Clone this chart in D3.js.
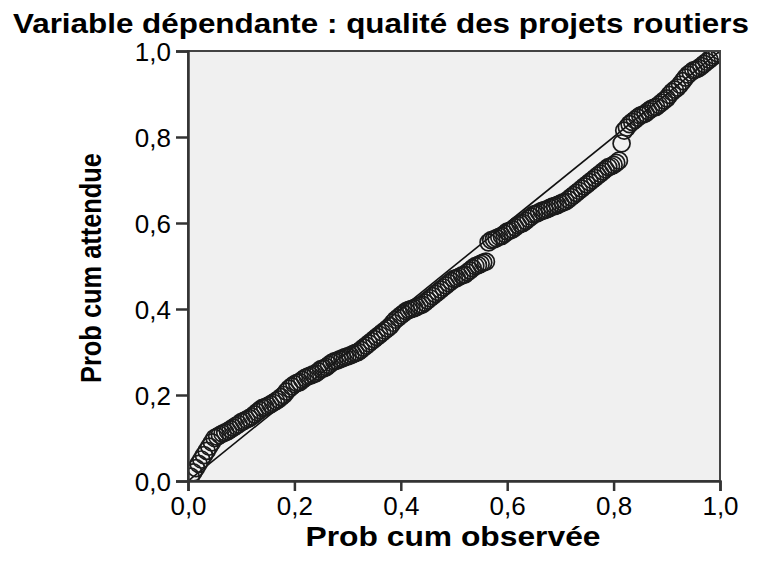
<!DOCTYPE html>
<html>
<head>
<meta charset="utf-8">
<script src="https://cdn.jsdelivr.net/npm/d3@7"></script>
<style>
  html, body { margin: 0; padding: 0; background: #ffffff; }
  svg { display: block; font-family: "Liberation Sans", Arial, sans-serif; }
</style>
</head>
<body>
<svg id="chart" width="760" height="572"></svg>
<script>
// ---- data ----
const titleText = "Variable dépendante : qualité des projets routiers";
const xLabel = "Prob cum observée";
const yLabel = "Prob cum attendue";
const tickValues = [0, 0.2, 0.4, 0.6, 0.8, 1.0];
const tickLabels = ["0,0", "0,2", "0,4", "0,6", "0,8", "1,0"];

const observed = [
  0.005,0.01,0.015,0.02,0.025,0.03,0.035,0.04,0.045,0.05,
  0.055,0.06,0.065,0.07,0.075,0.08,0.085,0.09,0.095,0.10,
  0.105,0.11,0.115,0.12,0.125,0.13,0.135,0.14,0.145,0.15,
  0.155,0.16,0.165,0.17,0.175,0.18,0.185,0.19,0.195,0.20,
  0.205,0.21,0.215,0.22,0.225,0.23,0.235,0.24,0.245,0.25,
  0.255,0.26,0.265,0.27,0.275,0.28,0.285,0.29,0.295,0.30,
  0.305,0.31,0.315,0.32,0.325,0.33,0.335,0.34,0.345,0.35,
  0.355,0.36,0.365,0.37,0.375,0.38,0.385,0.39,0.395,0.40,
  0.405,0.41,0.415,0.42,0.425,0.43,0.435,0.44,0.445,0.45,
  0.455,0.46,0.465,0.47,0.475,0.48,0.485,0.49,0.495,0.50,
  0.505,0.51,0.515,0.52,0.525,0.53,0.535,0.54,0.545,0.55,
  0.555,0.56,0.565,0.57,0.575,0.58,0.585,0.59,0.595,0.60,
  0.605,0.61,0.615,0.62,0.625,0.63,0.635,0.64,0.645,0.65,
  0.655,0.66,0.665,0.67,0.675,0.68,0.685,0.69,0.695,0.70,
  0.705,0.71,0.715,0.72,0.725,0.73,0.735,0.74,0.745,0.75,
  0.755,0.76,0.765,0.77,0.775,0.78,0.785,0.79,0.795,0.80,
  0.805,0.81,0.815,0.82,0.825,0.83,0.835,0.84,0.845,0.85,
  0.855,0.86,0.865,0.87,0.875,0.88,0.885,0.89,0.895,0.90,
  0.905,0.91,0.915,0.92,0.925,0.93,0.935,0.94,0.945,0.95,
  0.955,0.96,0.965,0.97,0.975,0.98,0.985,0.99,0.995,1.0
];
const expected = [
  0.01,0.02,0.03,0.04,0.05,0.06,0.07,0.08,0.09,0.10,
  0.103,0.107,0.11,0.113,0.116,0.12,0.124,0.128,0.132,0.137,
  0.14,0.143,0.146,0.15,0.155,0.16,0.165,0.17,0.172,0.175,
  0.178,0.182,0.186,0.19,0.195,0.20,0.208,0.215,0.22,0.225,
  0.228,0.23,0.235,0.24,0.243,0.245,0.248,0.25,0.255,0.26,
  0.262,0.265,0.27,0.275,0.278,0.28,0.283,0.285,0.288,0.29,
  0.292,0.295,0.298,0.30,0.305,0.31,0.315,0.32,0.325,0.33,
  0.335,0.34,0.345,0.35,0.355,0.36,0.368,0.375,0.38,0.385,
  0.39,0.395,0.398,0.40,0.402,0.405,0.408,0.41,0.415,0.42,
  0.425,0.43,0.435,0.44,0.445,0.45,0.455,0.46,0.465,0.47,
  0.472,0.475,0.478,0.48,0.485,0.49,0.495,0.50,0.502,0.505,
  0.508,0.51,0.555,0.56,0.562,0.565,0.568,0.57,0.575,0.58,
  0.582,0.585,0.59,0.595,0.598,0.60,0.605,0.61,0.615,0.62,
  0.622,0.625,0.628,0.63,0.632,0.635,0.638,0.64,0.642,0.645,
  0.648,0.65,0.655,0.66,0.665,0.67,0.675,0.68,0.685,0.69,
  0.695,0.70,0.705,0.71,0.715,0.72,0.725,0.73,0.732,0.735,
  0.74,0.745,0.785,0.815,0.822,0.83,0.835,0.84,0.845,0.85,
  0.852,0.855,0.86,0.865,0.868,0.87,0.875,0.88,0.885,0.89,
  0.898,0.905,0.91,0.915,0.922,0.93,0.938,0.945,0.95,0.955,
  0.957,0.96,0.965,0.97,0.975,0.98,0.985,0.99,0.995,1.0
];

// ---- layout ----
const svg = d3.select("#chart");
const plot = { left: 188, right: 720, top: 51, bottom: 481 };

const x = d3.scaleLinear().domain([0, 1]).range([plot.left, plot.right]);
const y = d3.scaleLinear().domain([0, 1]).range([plot.bottom, plot.top]);

// background
svg.append("rect")
  .attr("x", plot.left).attr("y", plot.top)
  .attr("width", plot.right - plot.left).attr("height", plot.bottom - plot.top)
  .attr("fill", "#f0f0f0");

svg.append("clipPath").attr("id", "clip")
  .append("rect")
  .attr("x", plot.left).attr("y", plot.top)
  .attr("width", plot.right - plot.left).attr("height", plot.bottom - plot.top);

const g = svg.append("g").attr("clip-path", "url(#clip)");

// reference diagonal
g.append("line")
  .attr("x1", x(0)).attr("y1", y(0))
  .attr("x2", x(1)).attr("y2", y(1))
  .attr("stroke", "#111").attr("stroke-width", 1.6);

// points
const pts = observed.map((o, i) => ({ o, e: expected[i] }));
g.selectAll("circle.pt").data(pts).enter().append("circle")
  .attr("class", "pt")
  .attr("cx", d => x(d.o)).attr("cy", d => y(d.e))
  .attr("r", 8.5)
  .attr("fill", "none")
  .attr("stroke", "#1a1a1a")
  .attr("stroke-width", 1.7);

// frame (top/right)
svg.append("rect")
  .attr("x", plot.left).attr("y", plot.top)
  .attr("width", plot.right - plot.left).attr("height", plot.bottom - plot.top)
  .attr("fill", "none").attr("stroke", "#444").attr("stroke-width", 2);

// axes
const fmt = d => tickLabels[tickValues.indexOf(d)];
const xAxis = svg.append("g")
  .attr("transform", `translate(0,${plot.bottom})`)
  .call(d3.axisBottom(x).tickValues(tickValues).tickFormat(fmt).tickSize(10).tickPadding(6));
const yAxis = svg.append("g")
  .attr("transform", `translate(${plot.left},0)`)
  .call(d3.axisLeft(y).tickValues(tickValues).tickFormat(fmt).tickSize(12).tickPadding(5));

[xAxis, yAxis].forEach(ax => {
  ax.select(".domain").attr("stroke", "#333").attr("stroke-width", 2.5);
  ax.selectAll(".tick line").attr("stroke", "#333").attr("stroke-width", 2.5);
  ax.selectAll(".tick text")
    .attr("fill", "#000")
    .style("font-family", "'Liberation Sans', Arial, sans-serif")
    .style("font-size", "26px");
});
yAxis.selectAll(".tick text").attr("dy", "0.36em");

// title
svg.append("text")
  .attr("x", 381).attr("y", 33)
  .attr("text-anchor", "middle")
  .attr("textLength", 736).attr("lengthAdjust", "spacingAndGlyphs")
  .style("font-size", "28px").style("font-weight", "bold")
  .attr("fill", "#000")
  .text(titleText);

// x label
svg.append("text")
  .attr("x", 453).attr("y", 546)
  .attr("text-anchor", "middle")
  .attr("textLength", 295).attr("lengthAdjust", "spacingAndGlyphs")
  .style("font-size", "28px").style("font-weight", "bold")
  .attr("fill", "#000")
  .text(xLabel);

// y label
svg.append("text")
  .attr("transform", `translate(101,268) rotate(-90)`)
  .attr("text-anchor", "middle")
  .attr("textLength", 230).attr("lengthAdjust", "spacingAndGlyphs")
  .style("font-size", "29px").style("font-weight", "bold")
  .attr("fill", "#000")
  .text(yLabel);
</script>
</body>
</html>
